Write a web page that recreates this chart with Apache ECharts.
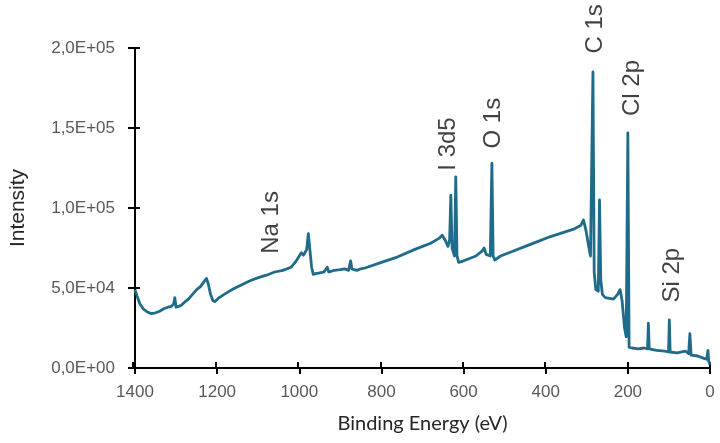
<!DOCTYPE html>
<html>
<head>
<meta charset="utf-8">
<script src="https://cdn.jsdelivr.net/npm/echarts@6/dist/echarts.min.js"></script>
<style>
  html, body { margin: 0; padding: 0; background: #fff; }
  #chart { width: 720px; height: 443px; }
</style>
</head>
<body>
<div id="chart"></div>
<script>
// binding energy (eV) and intensity (counts)
const energy = [
  1400, 1395, 1388, 1380, 1370, 1360, 1350, 1340, 1330, 1320, 1312, 1306, 1303, 1300, 1296,
  1288, 1280, 1270, 1260, 1250, 1240, 1232, 1226, 1222, 1216, 1210, 1205, 1195, 1180, 1160,
  1140, 1120, 1100, 1080, 1060, 1040, 1020, 1010, 1000, 995, 990, 982, 978, 975, 970,
  966, 960, 950, 940, 932, 928, 915, 900, 890, 880, 875, 872, 860, 850, 840,
  800, 760, 720, 680, 660, 652, 645, 638, 634, 631, 628, 622, 619, 616, 612,
  605, 590, 570, 555, 550, 545, 535, 531, 528, 524, 510, 480, 450, 420, 390,
  360, 330, 315, 308, 302, 296, 291, 288, 285, 282, 278, 272, 269, 266, 262,
  255, 245, 235, 225, 219, 214, 208, 204, 200, 197, 190, 175, 160, 152, 150,
  148, 130, 110, 101, 99, 97, 80, 60, 52, 49, 46, 30, 15, 8, 5,
  3, 0
];
const intensity = [
  49000, 45000, 40000, 37000, 35000, 34000, 34500, 35500, 37000, 38000, 38500, 40000, 44000, 38000, 37500,
  39000, 41000, 43000, 46000, 49000, 51000, 54000, 56000, 53000, 46000, 42000, 41500, 44000, 46500, 49500,
  52000, 54500, 56500, 58000, 60000, 61000, 63000, 66000, 70000, 72000, 70500, 74000, 84000, 76000, 63000,
  58500, 59000, 59500, 60000, 63000, 60000, 61000, 61500, 62000, 61000, 67000, 62000, 61000, 62000, 62500,
  66000, 69500, 74000, 78000, 81000, 83000, 80000, 76000, 80000, 108000, 75000, 70000, 119500, 70000, 66000,
  66500, 68000, 70000, 73000, 75000, 71000, 70000, 128000, 70000, 67500, 70000, 73000, 76000, 79000, 82000,
  84500, 87000, 89000, 92500, 86000, 77000, 70000, 69000, 185000, 60000, 49000, 48000, 105000, 55000, 46000,
  44000, 43500, 43000, 46000, 49000, 42000, 25000, 19500, 147000, 13000, 12500, 12000, 12500, 12000, 28000,
  12000, 11000, 10500, 10000, 30000, 10000, 9500, 10500, 9000, 21500, 8000, 7500, 6000, 5500, 11000,
  4000, 2000
];

// peak annotations: name and where the label sits, in data units
const peakNames = ["Na 1s", "I 3d5", "O 1s", "C 1s", "Cl 2p", "Si 2p"];
const peakLabelE = [1065, 636, 526, 277, 189, 92];
const peakLabelI = [91000, 140000, 153000, 212000, 175000, 58000];

const xTicks = { min: 0, max: 1400, interval: 200 };
const yTicks = { min: 0, max: 200000, interval: 50000 };

const lineColor = "#1f6b8a";

function sciLabel(v) {
  if (v === 0) return "0,0E+00";
  const exp = Math.floor(Math.log10(v));
  const mant = v / Math.pow(10, exp);
  return mant.toFixed(1).replace(".", ",") + "E+" + String(exp).padStart(2, "0");
}

const spectrum = energy.map((e, i) => [e, intensity[i]]);
const peaks = peakNames.map((n, i) => ({ name: n, value: [peakLabelE[i], peakLabelI[i]] }));

const chart = echarts.init(document.getElementById("chart"));

const axisLineStyle = { color: "#000", width: 2 };
const hiddenLine = { color: "rgba(0,0,0,0)", width: 2 };
const tickLabelStyle = {
  color: "#595959",
  fontSize: 17,
  fontFamily: "Liberation Sans, Arial, sans-serif"
};
const plotBox = { left: 133, right: 10, top: 48, bottom: 75, containLabel: false };

// the second grid sits on top of the first; its axes only draw the inner half of the cross ticks
const innerX = {
  type: "value", gridIndex: 1, inverse: true,
  min: xTicks.min, max: xTicks.max, interval: xTicks.interval,
  position: "bottom",
  axisLine: { show: true, onZero: false, lineStyle: hiddenLine },
  axisTick: { show: true, inside: true, length: 6, lineStyle: axisLineStyle },
  axisLabel: { show: true, formatter: () => "" },
  splitLine: { show: false }
};
const innerY = {
  type: "value", gridIndex: 1,
  min: yTicks.min, max: yTicks.max, interval: yTicks.interval,
  position: "left",
  axisLine: { show: true, onZero: false, lineStyle: hiddenLine },
  axisTick: { show: true, inside: true, length: 7, lineStyle: axisLineStyle },
  axisLabel: { show: true, formatter: () => "" },
  splitLine: { show: false }
};

chart.setOption({
  animation: false,
  backgroundColor: "#fff",
  grid: [plotBox, plotBox],
  xAxis: [
    {
      type: "value",
      gridIndex: 0,
      inverse: true,
      min: xTicks.min,
      max: xTicks.max,
      interval: xTicks.interval,
      position: "bottom",
      name: "Binding Energy (eV)",
      nameLocation: "middle",
      nameGap: 46,
      nameTextStyle: { color: "#262626", fontSize: 20, fontFamily: "Lato, sans-serif" },
      axisLine: { onZero: false, lineStyle: axisLineStyle },
      axisTick: { show: true, length: 6, lineStyle: axisLineStyle },
      axisLabel: { margin: 16, formatter: v => String(v), ...tickLabelStyle },
      splitLine: { show: false }
    },
    innerX
  ],
  yAxis: [
    {
      type: "value",
      gridIndex: 0,
      min: yTicks.min,
      max: yTicks.max,
      interval: yTicks.interval,
      position: "left",
      name: "Intensity",
      nameLocation: "middle",
      nameGap: 106,
      nameTextStyle: { color: "#262626", fontSize: 21, fontFamily: "Liberation Sans, Arial, sans-serif" },
      axisLine: { show: true, onZero: false, lineStyle: axisLineStyle },
      axisTick: { show: true, length: 7, lineStyle: axisLineStyle },
      axisLabel: { margin: 20, formatter: sciLabel, ...tickLabelStyle },
      splitLine: { show: false }
    },
    innerY
  ],
  series: [
    {
      name: "Survey",
      type: "line",
      xAxisIndex: 0,
      yAxisIndex: 0,
      data: spectrum,
      showSymbol: false,
      symbol: "none",
      lineStyle: { color: lineColor, width: 2.8, join: "round" },
      clip: false,
      z: 3
    },
    {
      name: "Peaks",
      type: "scatter",
      xAxisIndex: 1,
      yAxisIndex: 1,
      data: peaks,
      symbolSize: 0,
      clip: false,
      silent: true,
      label: {
        show: true,
        position: "inside",
        rotate: 90,
        formatter: p => p.name,
        color: "#111",
        fontSize: 24,
        fontFamily: "Liberation Sans, Arial, sans-serif"
      },
      z: 4
    }
  ]
});
</script>
</body>
</html>
